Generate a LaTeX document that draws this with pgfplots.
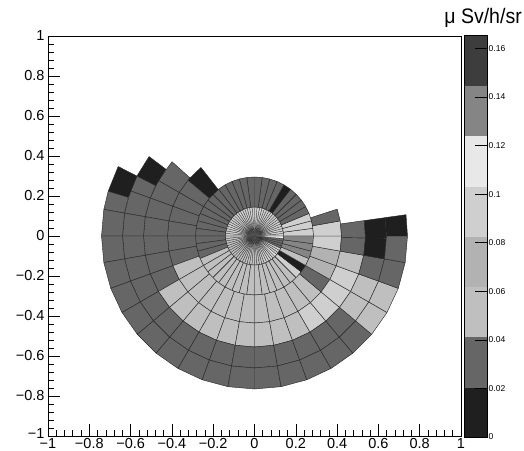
\documentclass[border=0pt]{standalone}
\usepackage{fontspec}
\setmainfont{Liberation Sans}
\usepackage{graphicx}
\usepackage{pgfplots}
\pgfplotsset{compat=1.18}
\usepgfplotslibrary{patchplots}

% x is scaled so that the rings stay round (206.5 px per x unit, 200 px per y unit)
\newcommand\xs{0.9685}
% #1 name, #2 inner radius, #3 outer radius, #4 angular bin width, #5 segments a0/a1/value
\newcommand\buildring[5]{%
  \gdef\ringtmp{}%
  \foreach \aA/\aB/\vv in {#5} {%
    \pgfmathtruncatemacro\nn{max(1,round((\aB-\aA)/#4))}%
    \foreach \k in {1,...,\nn} {%
      \pgfmathsetmacro\bA{\aA+(\k-1)*(\aB-\aA)/\nn}%
      \pgfmathsetmacro\bB{\aA+\k*(\aB-\aA)/\nn}%
      \pgfmathsetmacro\xA{#2*cos(\bA)*\xs}\pgfmathsetmacro\yA{#2*sin(\bA)}%
      \pgfmathsetmacro\xB{#3*cos(\bA)*\xs}\pgfmathsetmacro\yB{#3*sin(\bA)}%
      \pgfmathsetmacro\xC{#3*cos(\bB)*\xs}\pgfmathsetmacro\yC{#3*sin(\bB)}%
      \pgfmathsetmacro\xD{#2*cos(\bB)*\xs}\pgfmathsetmacro\yD{#2*sin(\bB)}%
      \xdef\ringtmp{\ringtmp (\xA,\yA) [\vv] (\xB,\yB) [\vv] (\xC,\yC) [\vv] (\xD,\yD) [\vv]}%
    }%
  }%
  \expandafter\global\expandafter\let\csname #1\endcsname\ringtmp
}

% cell values (uSv/h/sr), segments of equal value: start angle / end angle / value
\buildring{ringA}{0}{0.145}{5}{0/180/0.093, 180/290/0.052, 290/315/0.093, 315/320/0.114, 320/335/0.093, 335/355/0.031, 355/360/0.114}
\buildring{ringB}{0.145}{0.295}{7.5}{0/22.5/0.093, 22.5/52.5/0.031, 52.5/60/0.010, 60/202.5/0.031, 202.5/315/0.052, 315/322.5/0.093, 322.5/330/0.010, 330/337.5/0.052, 337.5/360/0.134}
\buildring{ringC}{0.295}{0.435}{10}{128/140/0.010, 140/200/0.031, 200/320/0.052, 320/330/0.031, 330/350/0.072, 350/370/0.093, 370/378/0.031}
\buildring{ringD}{0.435}{0.555}{10}{138/150/0.031, 150/210/0.031, 210/300/0.052, 300/340/0.093, 340/350/0.052, 350/368/0.031}
\buildring{ringE}{0.555}{0.66}{10}{143/153/0.010, 153/160/0.031, 160/320/0.031, 320/340/0.052, 340/350/0.031, 350/368/0.010}
\buildring{ringF}{0.66}{0.765}{10}{153/163/0.010, 163/170/0.031, 170/320/0.031, 320/340/0.052, 340/360/0.031, 360/368/0.010}

\pgfplotsset{
  colormap access=piecewise constant,
  colormap={rootgray}{gray=(0.12) gray=(0.40) gray=(0.75) gray=(0.70) gray=(0.81) gray=(0.91) gray=(0.52) gray=(0.24)},
  point meta min=0, point meta max=0.1655,
  ringsty/.style={patch, patch type=rectangle, shader=faceted, faceted color=black!85, line width=0.42bp, point meta=explicit},
}
\newcommand\tickfont{\fontsize{14.5bp}{16bp}\selectfont}

\begin{document}
\begin{tikzpicture}
\useasboundingbox (0,0) rectangle (524bp,451bp);
\begin{axis}[
  at={(48bp,15bp)}, anchor=south west, scale only axis,
  width=413bp, height=400bp,
  xmin=-1, xmax=1, ymin=-1, ymax=1,
  xtick={-1,-0.8,-0.6,-0.4,-0.2,0,0.2,0.4,0.6,0.8,1},
  ytick={-1,-0.8,-0.6,-0.4,-0.2,0,0.2,0.4,0.6,0.8,1},
  xticklabels={−1,−0.8,−0.6,−0.4,−0.2,0,0.2,0.4,0.6,0.8,1},
  yticklabels={\raisebox{-2.5bp}[0pt][0pt]{−1},−0.8,−0.6,−0.4,−0.2,0,0.2,0.4,0.6,0.8,1},
  minor tick num=4,
  tick align=inside,
  xtick pos=left, ytick pos=left,
  major tick length=12bp, minor tick length=6bp,
  tick style={black, line width=0.6bp},
  axis line style={line width=0.8bp},
  ticklabel style={font=\tickfont},
  xticklabel style={inner sep=0pt, yshift=-2.6bp},
]
\edef\tmp{\noexpand\addplot[ringsty, line width=0.25bp] coordinates {\ringA};}\tmp
\edef\tmp{\noexpand\addplot[ringsty] coordinates {\ringB};}\tmp
\edef\tmp{\noexpand\addplot[ringsty] coordinates {\ringC};}\tmp
\edef\tmp{\noexpand\addplot[ringsty] coordinates {\ringD};}\tmp
\edef\tmp{\noexpand\addplot[ringsty] coordinates {\ringE};}\tmp
\edef\tmp{\noexpand\addplot[ringsty] coordinates {\ringF};}\tmp
\end{axis}

\begin{axis}[
  name=cbar,
  at={(464bp,14bp)}, anchor=south west, scale only axis,
  width=23bp, height=402bp,
  xmin=0, xmax=1, ymin=0, ymax=0.1655,
  xtick=\empty,
  ytick={0,0.02,0.04,0.06,0.08,0.1,0.12,0.14,0.16},
  yticklabels={0,0.02,0.04,0.06,0.08,0.1,0.12,0.14,0.16},
  ytick pos=right, yticklabel pos=right,
  tick align=inside, major tick length=12bp,
  tick style={black, line width=0.5bp},
  axis line style={line width=0.6bp},
  yticklabel style={font=\fontsize{8.5bp}{9bp}\selectfont, inner sep=1.5bp},
  axis on top,
]
\addplot[patch, patch type=rectangle, shader=flat, draw=none, point meta=explicit] coordinates {
 (0,0) [0.010] (1,0) [0.010] (1,0.0207) [0.010] (0,0.0207) [0.010]
 (0,0.0207) [0.031] (1,0.0207) [0.031] (1,0.0414) [0.031] (0,0.0414) [0.031]
 (0,0.0414) [0.052] (1,0.0414) [0.052] (1,0.0621) [0.052] (0,0.0621) [0.052]
 (0,0.0621) [0.072] (1,0.0621) [0.072] (1,0.0828) [0.072] (0,0.0828) [0.072]
 (0,0.0828) [0.093] (1,0.0828) [0.093] (1,0.1034) [0.093] (0,0.1034) [0.093]
 (0,0.1034) [0.114] (1,0.1034) [0.114] (1,0.1241) [0.114] (0,0.1241) [0.114]
 (0,0.1241) [0.134] (1,0.1241) [0.134] (1,0.1448) [0.134] (0,0.1448) [0.134]
 (0,0.1448) [0.155] (1,0.1448) [0.155] (1,0.1655) [0.155] (0,0.1655) [0.155]
};
\end{axis}
\node[anchor=base east, inner sep=0pt, font=\fontsize{21bp}{22bp}\selectfont] at ([xshift=35bp, yshift=11.5bp]cbar.north east) {\scalebox{0.93}[1]{μ Sv/h/sr}};
\end{tikzpicture}
\end{document}
